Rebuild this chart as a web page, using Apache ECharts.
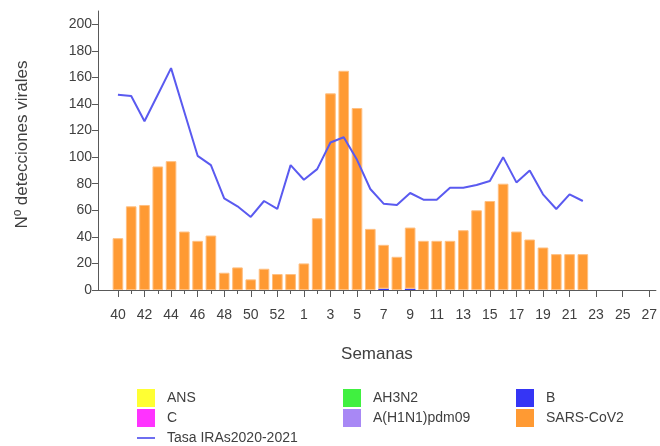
<!DOCTYPE html>
<html>
<head>
<meta charset="utf-8">
<script src="https://cdn.jsdelivr.net/npm/echarts@6/dist/echarts.min.js"></script>
<style>html,body{margin:0;padding:0;background:#fff;}#c{width:660px;height:446px;}</style>
</head>
<body>
<div id="c"></div>
<script>
// Week categories (39 is an unlabeled leading slot on the axis)
const weeks = ['39','40','41','42','43','44','45','46','47','48','49','50','51','52','53',
  '1','2','3','4','5','6','7','8','9','10','11','12','13','14','15','16','17','18','19','20','21','22','23','24','25','26','27'];
// Weeks that have data (40/2020 .. 22/2021)
const dataWeeks = ['40','41','42','43','44','45','46','47','48','49','50','51','52','53',
  '1','2','3','4','5','6','7','8','9','10','11','12','13','14','15','16','17','18','19','20','21','22'];
const sarsCov2 = [39,63,64,93,97,44,37,41,13,17,8,16,12,12,
  20,54,148,165,137,46,33,25,46,37,37,37,45,60,67,80,44,38,32,27,27,27];
const bVals = [0,0,0,0,0,0,0,0,0,0,0,0,0,0,
  0,0,0,0,0,0,1,0,1,0,0,0,0,0,0,0,0,0,0,0,0,0];
const ans = dataWeeks.map(() => 0);
const cVals = dataWeeks.map(() => 0);
const ah3n2 = dataWeeks.map(() => 0);
const h1n1 = dataWeeks.map(() => 0);
const tasaIRAs = [147,146,127,147,167,134,101,94,69,63,55,67,61,94,
  83,91,111,115,98,76,65,64,73,68,68,77,77,79,82,100,81,90,72,61,72,67];
const yTicks = [0,20,40,60,80,100,120,140,160,180,200];

function toCat(arr){
  const m = {};
  dataWeeks.forEach((w,i)=>{ m[w]=arr[i]; });
  return weeks.map(w => (w in m) ? m[w] : null);
}

const FONT = "'Liberation Sans', Arial, sans-serif";
const TXT = '#404040';
const AX = '#595959';

const chart = echarts.init(document.getElementById('c'), null, {renderer:'canvas'});

function barSeries(name, arr, color, border){
  return {
    name, type:'bar', stack:'v', data: toCat(arr), xAxisIndex:0, yAxisIndex:0,
    barCategoryGap:'20%',
    itemStyle:{color, borderColor: border || color, borderWidth: border ? 1 : 0},
    emphasis:{disabled:true}
  };
}

function lg(name, left, top, extra){
  return Object.assign({
    data:[name], left, top, padding:0, itemWidth:18, itemHeight:18, icon:'rect',
    selectedMode:false,
    itemStyle:{borderWidth:0},
    textStyle:{fontFamily:FONT, fontSize:14, color:TXT, padding:[0,0,0,7]}
  }, extra||{});
}

chart.setOption({
  animation:false,
  backgroundColor:'#ffffff',
  textStyle:{fontFamily:FONT},
  grid:{left:98, top:11, width:561, height:279, containLabel:false},
  legend:[
    lg('ANS',137,389),
    lg('C',137,409),
    lg('Tasa IRAs2020-2021',137,431,{itemHeight:2}),
    lg('AH3N2',343,389),
    lg('A(H1N1)pdm09',343,409),
    lg('B',516,389),
    lg('SARS-CoV2',516,409)
  ],
  xAxis:[{
    type:'category', data:weeks, boundaryGap:true, position:'bottom',
    name:'Semanas', nameLocation:'middle', nameGap:56,
    nameTextStyle:{fontFamily:FONT, fontSize:17, color:TXT},
    axisLine:{show:true, lineStyle:{color:AX, width:1}},
    axisTick:{show:true, alignWithLabel:true, length:7, interval:(i)=> i%2===1, lineStyle:{color:AX}},
    axisLabel:{interval:(i)=> i%2===1, margin:18, fontFamily:FONT, fontSize:14, color:TXT},
    splitLine:{show:false}
  },{
    type:'category', data:weeks, boundaryGap:true, position:'bottom',
    axisLine:{show:false},
    axisTick:{show:true, alignWithLabel:true, length:4, interval:(i)=> i%2===0 && i>=2 && i<=34, lineStyle:{color:AX}},
    axisLabel:{show:false},
    splitLine:{show:false}
  }],
  yAxis:{
    type:'value', min:0, max:210, interval:20,
    name:'Nº detecciones virales', nameLocation:'middle', nameGap:67, nameRotate:90,
    nameTextStyle:{fontFamily:FONT, fontSize:17, color:TXT, padding:[0,0,0,12]},
    axisLine:{show:true, lineStyle:{color:AX, width:1}},
    axisTick:{show:true, length:6, customValues:yTicks, lineStyle:{color:AX}},
    axisLabel:{margin:6, fontFamily:FONT, fontSize:14, color:TXT, customValues:yTicks,
      formatter:(v)=> v>200 ? '' : String(v)},
    splitLine:{show:false}
  },
  series:[
    barSeries('ANS', ans, '#ffff33'),
    barSeries('C', cVals, '#ff33ff'),
    barSeries('AH3N2', ah3n2, '#40f040'),
    barSeries('A(H1N1)pdm09', h1n1, '#a888f5'),
    barSeries('B', bVals, '#3535f5'),
    barSeries('SARS-CoV2', sarsCov2, '#ff9a33', '#ffbf80'),
    {
      name:'Tasa IRAs2020-2021', type:'line', data: toCat(tasaIRAs), xAxisIndex:0, yAxisIndex:0,
      showSymbol:false, symbol:'none', connectNulls:false,
      lineStyle:{color:'#5a5af0', width:2}, itemStyle:{color:'#6e6ef0'},
      emphasis:{disabled:true}, z:3
    }
  ]
});
</script>
</body>
</html>
